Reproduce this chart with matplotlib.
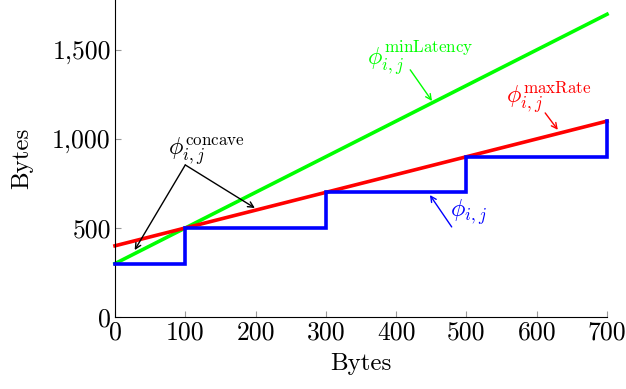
import matplotlib
matplotlib.use("Agg")
import matplotlib.pyplot as plt

plt.rcParams['font.family'] = 'serif'
plt.rcParams['font.serif'] = ['cmr10', 'DejaVu Serif']
plt.rcParams['mathtext.fontset'] = 'cm'
plt.rcParams['axes.unicode_minus'] = False

# data
min_latency_x = [0, 700]
min_latency_y = [300, 1700]
max_rate_x = [0, 700]
max_rate_y = [400, 1100]
phi_x = [0, 100, 100, 300, 300, 500, 500, 700, 700]
phi_y = [300, 300, 500, 500, 700, 700, 900, 900, 1100]
xticks = [0, 100, 200, 300, 400, 500, 600, 700]
yticks = [0, 500, 1000, 1500]
ytick_labels = ['0', '500', '1,000', '1,500']

fig = plt.figure(figsize=(6.26, 3.89), dpi=100)
ax = fig.add_axes([0.1837, 0.185, 0.786, 0.815])

ax.plot(phi_x, phi_y, color='#0000ff', lw=2.6, solid_joinstyle='miter', zorder=3, clip_on=False)
ax.plot(min_latency_x, min_latency_y, color='#00ff00', lw=2.6, zorder=2, clip_on=False)
ax.plot(max_rate_x, max_rate_y, color='#ff0000', lw=2.6, zorder=2, clip_on=False)

ax.set_xlim(0, 700)
ax.set_ylim(0, 1780)
ax.set_xticks(xticks)
ax.set_yticks(yticks)
ax.set_yticklabels(ytick_labels)
ax.tick_params(direction='in', length=4, color='#999999', labelsize=18.5, pad=3)
for s in ['top', 'right']:
    ax.spines[s].set_visible(False)
ax.set_xlabel('Bytes', fontsize=18, labelpad=6)
ax.set_ylabel('Bytes', fontsize=18, labelpad=14)

ap = dict(arrowstyle='->', lw=1.0, shrinkA=0, shrinkB=0)
ax.text(130, 930, r'$\phi_{i,j}^{\mathrm{concave}}$', fontsize=17.5, ha='center', va='center', color='black')
ax.annotate('', xy=(28, 376), xytext=(100, 854), arrowprops=dict(ap, color='black'))
ax.annotate('', xy=(199, 612), xytext=(100, 854), arrowprops=dict(ap, color='black'))

ax.text(434, 1450, r'$\phi_{i,j}^{\mathrm{minLatency}}$', fontsize=17.5, ha='center', va='center', color='#00ff00')
ax.annotate('', xy=(451, 1213), xytext=(420, 1388), arrowprops=dict(ap, color='#00ff00'))

ax.text(617, 1230, r'$\phi_{i,j}^{\mathrm{maxRate}}$', fontsize=17.5, ha='center', va='center', color='#ff0000')
ax.annotate('', xy=(630, 1051), xytext=(612, 1146), arrowprops=dict(ap, color='#ff0000'))

ax.text(503, 590, r'$\phi_{i,j}$', fontsize=17.5, ha='center', va='center', color='#0000ff')
ax.annotate('', xy=(448, 685), xytext=(479, 506), arrowprops=dict(ap, color='#0000ff'))

fig.savefig('out.png', dpi=100)
